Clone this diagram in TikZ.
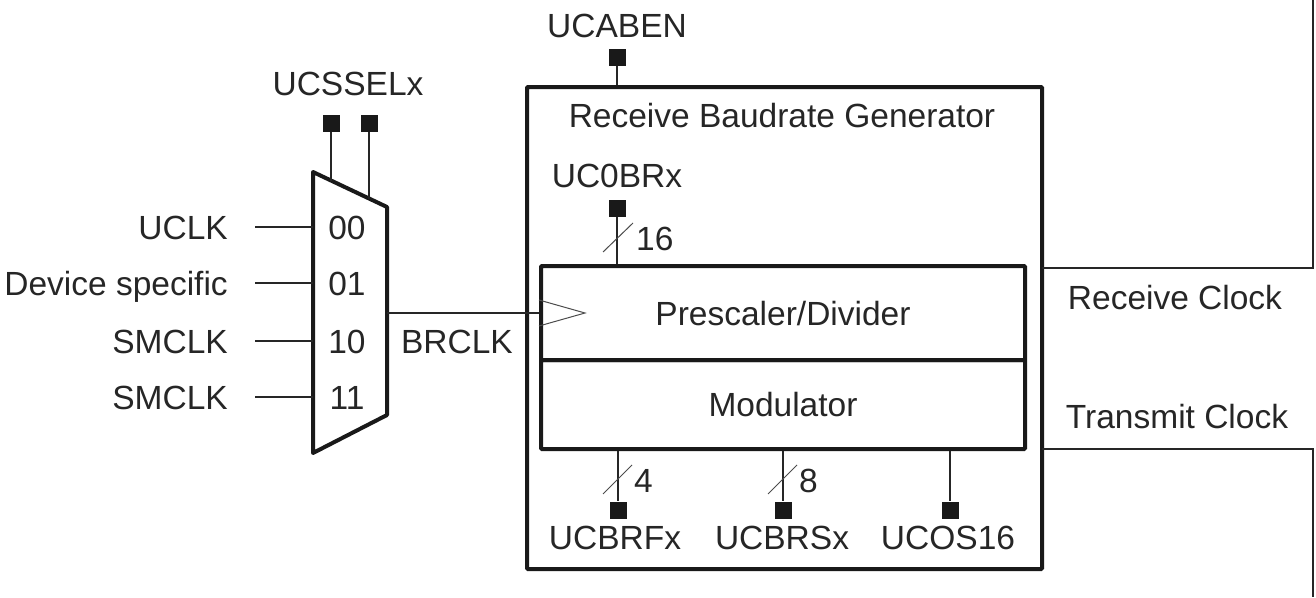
\documentclass[tikz,border=0pt]{standalone}
\usepackage{fontspec}
\setmainfont{Liberation Sans}
\begin{document}
\begin{tikzpicture}[x=1pt,y=-1pt,
  boxline/.style={draw=black!90, line width=4pt, rounded corners=1pt},
  wire/.style={draw=black!85, line width=1.6pt},
  pin/.style={fill=black!90, draw=none, minimum size=17pt, inner sep=0pt},
  lbl/.style={font=\fontsize{33.5}{40}\selectfont, text=black!85, inner sep=0pt, text height=24pt, text depth=0pt},
  slash/.style={draw=black!70, line width=1pt}]
\useasboundingbox (0,0) rectangle (1316,597);

% outer box and inner blocks
\node[boxline, minimum width=515pt, minimum height=482pt, inner sep=0pt] (rbg) at (784.5,328) {};
\node[boxline, minimum width=484pt, minimum height=94pt, inner sep=0pt, lbl] (pre) at (783,313) {Prescaler/Divider};
\node[boxline, minimum width=484pt, minimum height=89pt, inner sep=0pt, lbl] (mod) at (783,404.5) {Modulator};
\node[lbl] (title) at (782,115) {Receive Baudrate Generator};

% mux
\coordinate (mtl) at (313,172);
\coordinate (mtr) at (387,207);
\coordinate (mbr) at (387,415);
\coordinate (mbl) at (313,453);
\draw[draw=black!90, line width=4pt, line join=round] (mtl) -- (mtr) -- (mbr) -- (mbl) -- cycle;

\node[lbl] (n00) at (347,227) {00};
\node[lbl] (n01) at (347,283) {01};
\node[lbl] (n10) at (347,341) {10};
\node[lbl] (n11) at (347,397) {11};

\node[lbl, anchor=east] (uclk) at (228,227) {UCLK};
\node[lbl, anchor=east] (dev) at (228,283) {Device specific};
\node[lbl, anchor=east] (smclka) at (228,341) {SMCLK};
\node[lbl, anchor=east] (smclkb) at (228,397) {SMCLK};
\coordinate (i0) at (255,227); \coordinate (e0) at (313,227);
\coordinate (i1) at (255,283); \coordinate (e1) at (313,283);
\coordinate (i2) at (255,341); \coordinate (e2) at (313,341);
\coordinate (i3) at (255,397); \coordinate (e3) at (313,397);
\draw[wire] (i0) -- (e0);
\draw[wire] (i1) -- (e1);
\draw[wire] (i2) -- (e2);
\draw[wire] (i3) -- (e3);

% select
\node[lbl] (ucssel) at (348,83) {UCSSELx};
\node[pin] (s0) at (331,123) {};
\node[pin] (s1) at (369,123) {};
\coordinate (t0) at (331,180.5);
\coordinate (t1) at (369,198.5);
\draw[wire] (s0.south) -- (t0);
\draw[wire] (s1.south) -- (t1);

% BRCLK
\coordinate (mout) at (387,313);
\draw[wire] (mout) -- (pre.west);
\node[lbl] (brclk) at (457,341) {BRCLK};
\draw[slash, line join=miter] ([yshift=13pt]pre.west) -- ++(46,13) -- ++(-46,13);

% UCABEN
\node[lbl] (ucaben) at (617,25) {UCABEN};
\node[pin] (pab) at (617,57) {};
\draw[wire] (pab.south) -- (pab.south |- rbg.north);

% UC0BRx
\node[lbl] (ucbr) at (617,175) {UC0BRx};
\node[pin] (pbr) at (617,208) {};
\draw[wire] (pbr.south) -- (pbr.south |- pre.north);
\coordinate (sl1a) at (603,252); \coordinate (sl1b) at (633,223);
\draw[slash] (sl1a) -- (sl1b);
\node[lbl, anchor=west] (w16) at (636,238) {16};

% bottom pins
\node[pin] (pbrf) at (618,510) {};
\node[pin] (pbrs) at (783,510) {};
\node[pin] (pos) at (950,510) {};
\draw[wire] (pbrf.north |- mod.south) -- (pbrf.north);
\draw[wire] (pbrs.north |- mod.south) -- (pbrs.north);
\draw[wire] (pos.north |- mod.south) -- (pos.north);
\coordinate (sl2a) at (603,494); \coordinate (sl2b) at (632,465);
\coordinate (sl3a) at (768,494); \coordinate (sl3b) at (797,465);
\draw[slash] (sl2a) -- (sl2b);
\draw[slash] (sl3a) -- (sl3b);
\node[lbl, anchor=west] (w4) at (634,480) {4};
\node[lbl, anchor=west] (w8) at (799,480) {8};
\node[lbl] (ucbrf) at (615,537) {UCBRFx};
\node[lbl] (ucbrs) at (782,537) {UCBRSx};
\node[lbl] (ucos) at (948,537) {UCOS16};

% clock outputs
\coordinate (rcs) at (1042,268);
\coordinate (rcc) at (1313,268);
\coordinate (rct) at (1313,0);
\coordinate (tcs) at (1042,449);
\coordinate (tcc) at (1313,449);
\coordinate (tcb) at (1313,597);
\draw[wire, line width=1.3pt] (rcs) -- (rcc) -- (rct);
\draw[wire, line width=1.3pt] (tcs) -- (tcc) -- (tcb);
\node[lbl] (rclk) at (1175,297) {Receive Clock};
\node[lbl] (tclk) at (1177,416) {Transmit Clock};
\end{tikzpicture}
\end{document}
